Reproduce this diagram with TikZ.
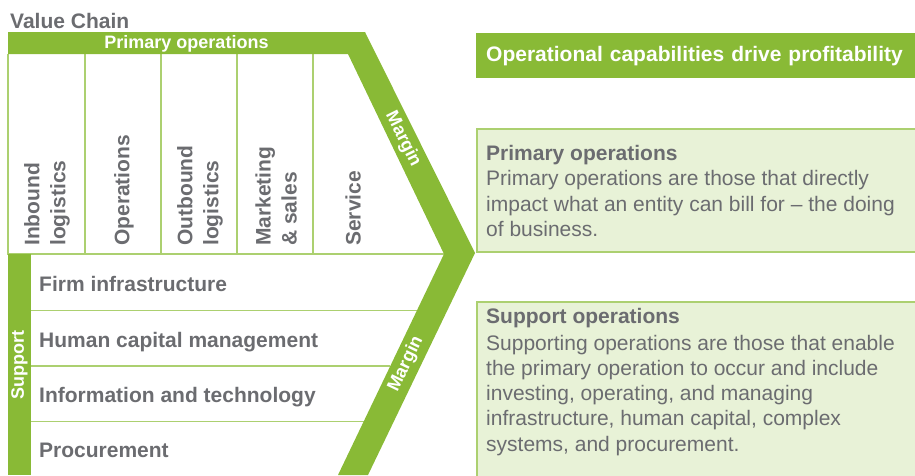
\documentclass[tikz,border=0pt]{standalone}
\usepackage{fontspec}
\setmainfont{Liberation Sans}
\usetikzlibrary{positioning}
\definecolor{vcgreen}{RGB}{137,186,54}
\definecolor{vcline}{RGB}{172,208,112}
\definecolor{vcpale}{RGB}{232,242,215}
\definecolor{vcgray}{RGB}{107,108,112}
\tikzset{
	big/.style={font=\fontsize{21}{26}\selectfont\bfseries, text=vcgray, inner sep=0pt},
	small/.style={font=\fontsize{18}{20}\selectfont\bfseries, text=white, inner sep=0pt},
	col/.style={big, rotate=90, anchor=west, align=left},
	row/.style={big, anchor=base west},
	thin/.style={vcline, line width=1.3pt},
	descbox/.style={fill=vcpale, draw=vcline, line width=1.3pt},
	desctext/.style={font=\fontsize{21}{25.3}\selectfont, text=vcgray, inner sep=0pt, align=left, anchor=base west},
}

\begin{document}
\begin{tikzpicture}[x=1pt, y=-1pt]
	\useasboundingbox (0,0) rectangle (915,475);
	\draw [thin] (8,54) -- (8,254) -- (444,254);
	\foreach \x in {85,161,237,313}
		\draw [thin] (\x,54) -- (\x,254);
	\foreach \y in {310.7,366,421.7}
		\draw [thin] (31,\y) -- ({444-0.48*(\y-254)},\y);
	\fill [vcgreen] (8,32) -- (365,32) -- (475,253) -- (368,475) -- (338,475) -- (444,254) -- (348,54) -- (8,54) -- cycle;
	\fill [vcgreen] (8,254) rectangle (31,475);
	\node [big, anchor=base west] (VC) at (10,28.3) {Value Chain};
	\node [small] (PO) at (186.5,43.5) {Primary operations};
	\node [small, rotate=-63.5] (MA) at (403,139) {Margin};
	\node [small, rotate=64.4] (MB) at (406,364) {Margin};
	\node [small, rotate=90] (SU) at (19.5,365) {Support};
	\node [col] (IL) at (47,246) {Inbound\\logistics};
	\node [col] (OP) at (124,246) {Operations};
	\node [col] (OL) at (200,246) {Outbound\\logistics};
	\node [col] (MS) at (276,246) {Marketing\\\& sales};
	\node [col] (SE) at (353,246) {Service};
	\node [row] (FI) at (39,291.5) {Firm infrastructure};
	\node [row] (HC) at (39,347) {Human capital management};
	\node [row] (IT) at (39,402.5) {Information and technology};
	\node [row] (PR) at (39,457.5) {Procurement};
	\node [fill=vcgreen, anchor=north west, minimum height=45pt, text width=440pt, inner xsep=10pt, inner ysep=0pt,
		font=\fontsize{21}{25}\selectfont\bfseries, text=white] (CAP) at (476,33) {Operational capabilities drive profitability};
	\draw [descbox] (477,129) rectangle (925,252);
	\draw [descbox] (477,302) rectangle (925,485);
	\node [desctext, font=\fontsize{21}{25.3}\selectfont\bfseries] (PT) at (486,160) {Primary operations};
	\node [desctext] (PB) at ([yshift=-76.3pt]PT.base west) {Primary operations are those that directly\\impact what an entity can bill for – the doing\\of business.};
	\node [desctext, font=\fontsize{21}{25.3}\selectfont\bfseries] (ST) at (486,323.3) {Support operations};
	\node [desctext] (SB) at ([yshift=-127.9pt]ST.base west) {Supporting operations are those that enable\\the primary operation to occur and include\\investing, operating, and managing\\infrastructure, human capital, complex\\systems, and procurement.};
\end{tikzpicture}
\end{document}
